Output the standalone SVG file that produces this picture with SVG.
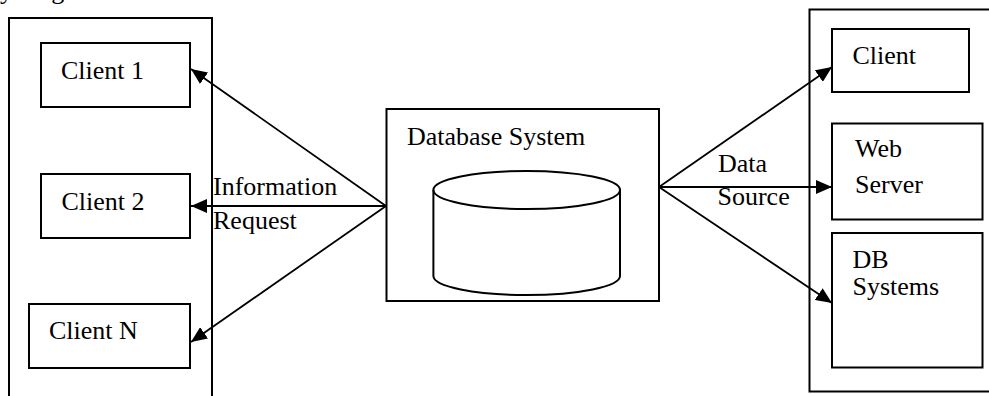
<svg xmlns="http://www.w3.org/2000/svg" width="989" height="396" viewBox="0 0 989 396">
<style>
.box{fill:#fff;stroke:#000;stroke-width:2}
.outer{fill:none;stroke:#000;stroke-width:2}
.t{font-family:"Liberation Serif","Times New Roman",serif;font-size:26px;fill:#000}
.c{fill:none;stroke:#000;stroke-width:2}
.cn{fill:none;stroke:#000;stroke-width:1.8}
</style>
<defs>
<marker id="ah" markerUnits="userSpaceOnUse" markerWidth="16" markerHeight="14" refX="16" refY="7" orient="auto">
<path d="M0,0 L16,7 L0,14 z" fill="#000"/>
</marker>
</defs>
<text class="t" x="0" y="-1">y diagram</text>
<g id="leftGroup">
<rect class="outer" x="9" y="18" width="203" height="392"/>
</g>
<g id="client1">
<rect class="box" x="41" y="43" width="149" height="64"/>
<text class="t" x="61" y="79">Client 1</text>
</g>
<g id="client2">
<rect class="box" x="41" y="174" width="149" height="64"/>
<text class="t" x="61.5" y="210">Client 2</text>
</g>
<g id="clientN">
<rect class="box" x="29" y="304" width="161" height="64"/>
<text class="t" x="49" y="339">Client N</text>
</g>
<g id="dbsystem">
<rect class="box" x="386.5" y="109" width="272.5" height="192"/>
<text class="t" x="407" y="145">Database System</text>
<ellipse class="c" cx="526.7" cy="190" rx="93.3" ry="19"/>
<path class="c" d="M433.4,190 L433.4,276 A93.3,19 0 0 0 620,276 L620,190"/>
</g>
<g id="rightGroup">
<rect class="outer" x="809.5" y="9.5" width="200" height="382"/>
</g>
<g id="clientR">
<rect class="box" x="832" y="29" width="137" height="63"/>
<text class="t" x="852.5" y="64">Client</text>
</g>
<g id="webserver">
<rect class="box" x="832" y="123.5" width="150.5" height="96"/>
<text class="t" x="855" y="157">Web</text>
<text class="t" x="855" y="193">Server</text>
</g>
<g id="dbsystems">
<rect class="box" x="832" y="233" width="150.5" height="134.5"/>
<text class="t" x="852.5" y="268">DB</text>
<text class="t" x="852.5" y="295">Systems</text>
</g>
<g id="connectors">
<line class="cn" x1="386" y1="206" x2="191" y2="69" marker-end="url(#ah)"/>
<line class="cn" x1="386" y1="206" x2="191" y2="206" marker-end="url(#ah)"/>
<line class="cn" x1="386" y1="206" x2="191" y2="342" marker-end="url(#ah)"/>
<line class="cn" x1="659" y1="187" x2="832" y2="67" marker-end="url(#ah)"/>
<line class="cn" x1="659" y1="187" x2="832" y2="187" marker-end="url(#ah)"/>
<line class="cn" x1="659" y1="187" x2="832" y2="303" marker-end="url(#ah)"/>
<text class="t" x="213" y="195">Information</text>
<text class="t" x="213" y="229">Request</text>
<text class="t" x="718" y="172">Data</text>
<text class="t" x="717.5" y="205">Source</text>
</g>
</svg>
